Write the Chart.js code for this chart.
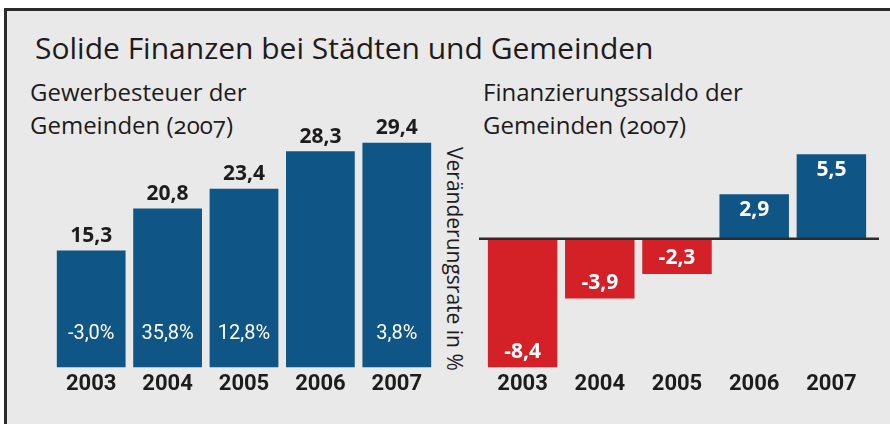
<!DOCTYPE html>
<html>
<head>
<meta charset="utf-8">
<script src="https://cdn.jsdelivr.net/npm/chart.js@4.4.1/dist/chart.umd.min.js"></script>
<style>
  body { margin: 0; width: 890px; height: 424px; background: #fff; overflow: hidden; position: relative; font-family: "Open Sans", sans-serif; color: #1e1b1c; }
  #frame { position: absolute; left: 4px; top: 8px; width: 900px; height: 430px; border: 3px solid #2b2b2b; background: #e9e9e9; }
  .t { position: absolute; white-space: nowrap; font-variant-numeric: oldstyle-nums; }
  #title { left: 35px; top: 27px; font-size: 30px; }
  .sub { font-size: 24px; line-height: 33px; }
  #sub1 { left: 30px; top: 75px; }
  #sub2 { left: 483px; top: 75px; }
  #vlab { left: 469px; top: 147px; font-size: 21px; transform-origin: 0 0; transform: rotate(90deg); }
  canvas { position: absolute; left: 0; top: 0; }
</style>
</head>
<body>
<div id="frame"></div>
<div class="t" id="title">Solide Finanzen bei Städten und Gemeinden</div>
<div class="t sub" id="sub1">Gewerbesteuer der<br>Gemeinden (2007)</div>
<div class="t sub" id="sub2">Finanzierungssaldo der<br>Gemeinden (2007)</div>
<div class="t" id="vlab">Veränderungsrate in %</div>
<canvas id="c1" width="890" height="424"></canvas>
<canvas id="c2" width="890" height="424"></canvas>
<script>
var years = ['2003', '2004', '2005', '2006', '2007'];
var gewerbesteuer = [15.3, 20.8, 23.4, 28.3, 29.4];
var veraenderung = [-3.0, 35.8, 12.8, null, 3.8];
var saldo = [-8.4, -3.9, -2.3, 2.9, 5.5];

var blue = '#0f5586', red = '#d42027';
function fmt(v) { return v.toFixed(1).replace('.', ','); }

var yearTicks = {
  color: '#1e1b1c', padding: 4,
  font: { family: 'Roboto, sans-serif', size: 22, weight: 'bold' }
};

var leftLabels = {
  id: 'leftLabels',
  afterDatasetsDraw: function(chart) {
    var ctx = chart.ctx;
    var meta = chart.getDatasetMeta(0);
    ctx.save();
    ctx.textAlign = 'center';
    meta.data.forEach(function(bar, i) {
      ctx.fillStyle = '#1e1b1c';
      ctx.font = 'bold 21px "Open Sans", sans-serif';
      ctx.textBaseline = 'bottom';
      ctx.fillText(fmt(gewerbesteuer[i]), bar.x, bar.y - 4);
      if (veraenderung[i] !== null) {
        ctx.fillStyle = '#fff';
        ctx.font = '20px Roboto, sans-serif';
        ctx.textBaseline = 'middle';
        ctx.fillText(fmt(veraenderung[i]) + '%', bar.x, bar.base - 34);
      }
    });
    ctx.restore();
  }
};

var rightLabels = {
  id: 'rightLabels',
  afterDatasetsDraw: function(chart) {
    var ctx = chart.ctx, area = chart.chartArea;
    var y0 = chart.scales.y.getPixelForValue(0);
    ctx.save();
    ctx.strokeStyle = '#2b2b2b';
    ctx.lineWidth = 2.5;
    ctx.beginPath();
    ctx.moveTo(area.left - 5, y0);
    ctx.lineTo(area.right + 9, y0);
    ctx.stroke();
    ctx.fillStyle = '#fff';
    ctx.font = 'bold 21px "Open Sans", sans-serif';
    ctx.textAlign = 'center';
    ctx.textBaseline = 'middle';
    chart.getDatasetMeta(0).data.forEach(function(bar, i) {
      var v = saldo[i];
      var y = v < 0 ? bar.y - 16 : bar.y + 16;
      ctx.fillText(fmt(v), bar.x, y);
    });
    ctx.restore();
  }
};

new Chart(document.getElementById('c1'), {
  type: 'bar',
  data: { labels: years, datasets: [{ data: gewerbesteuer, backgroundColor: blue, barPercentage: 0.9, categoryPercentage: 1.0 }] },
  options: {
    responsive: false, animation: false,
    layout: { padding: { left: 53, right: 455, top: 100, bottom: 22 } },
    plugins: { legend: { display: false }, tooltip: { enabled: false } },
    scales: {
      x: { grid: { display: false, drawTicks: false }, border: { display: false }, ticks: yearTicks },
      y: { display: false, min: 0, max: 35 }
    }
  },
  plugins: [leftLabels]
});

new Chart(document.getElementById('c2'), {
  type: 'bar',
  data: { labels: years, datasets: [{ data: saldo, backgroundColor: saldo.map(function(v) { return v < 0 ? red : blue; }), barPercentage: 0.9, categoryPercentage: 1.0 }] },
  options: {
    responsive: false, animation: false,
    layout: { padding: { left: 484, right: 20, top: 139, bottom: 22 } },
    plugins: { legend: { display: false }, tooltip: { enabled: false } },
    scales: {
      x: { grid: { display: false, drawTicks: false }, border: { display: false }, ticks: yearTicks },
      y: { display: false, min: -8.4, max: 6.5 }
    }
  },
  plugins: [rightLabels]
});
</script>
</body>
</html>
